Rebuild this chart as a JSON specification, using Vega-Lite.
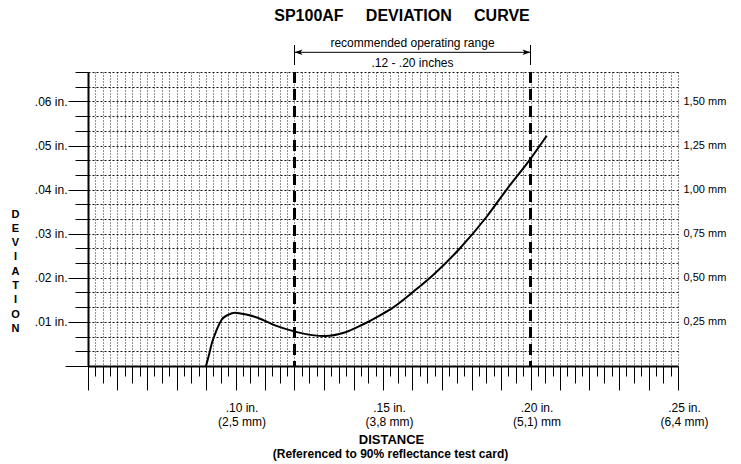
{
  "$schema": "https://vega.github.io/schema/vega-lite/v6.json",
  "width": 590,
  "height": 294,
  "autosize": {"type": "none"},
  "padding": {"left": 88, "top": 72, "right": 63, "bottom": 98},
  "background": "white",
  "config": {"view": {"stroke": null}, "font": "Liberation Sans"},
  "title": {"text": "SP100AF\u00a0\u00a0\u00a0\u00a0\u00a0DEVIATION\u00a0\u00a0\u00a0\u00a0\u00a0CURVE", "fontSize": 16, "fontWeight": "bold", "color": "black", "anchor": "middle", "dx": 19, "offset": 13},
  "datasets": {
    "curve": [
      {"distance": 0.0900, "deviation": 0.0000},
      {"distance": 0.0910, "deviation": 0.0025},
      {"distance": 0.0920, "deviation": 0.0052},
      {"distance": 0.0935, "deviation": 0.0080},
      {"distance": 0.0953, "deviation": 0.0105},
      {"distance": 0.0975, "deviation": 0.0116},
      {"distance": 0.0998, "deviation": 0.0121},
      {"distance": 0.1040, "deviation": 0.0116},
      {"distance": 0.1077, "deviation": 0.0109},
      {"distance": 0.1134, "deviation": 0.0092},
      {"distance": 0.1202, "deviation": 0.0078},
      {"distance": 0.1260, "deviation": 0.0070},
      {"distance": 0.1303, "deviation": 0.0068},
      {"distance": 0.1370, "deviation": 0.0076},
      {"distance": 0.1428, "deviation": 0.0093},
      {"distance": 0.1490, "deviation": 0.0115},
      {"distance": 0.1535, "deviation": 0.0133},
      {"distance": 0.1600, "deviation": 0.0167},
      {"distance": 0.1671, "deviation": 0.0207},
      {"distance": 0.1761, "deviation": 0.0267},
      {"distance": 0.1852, "deviation": 0.0339},
      {"distance": 0.1919, "deviation": 0.0400},
      {"distance": 0.1998, "deviation": 0.0468},
      {"distance": 0.2055, "deviation": 0.0522}
    ],
    "limits": [{"limit": 0.12}, {"limit": 0.20}]
  },
  "layer": [
    {
      "data": {"name": "curve"},
      "mark": {"type": "line", "color": "black", "strokeWidth": 2, "interpolate": "monotone"},
      "encoding": {
        "x": {
          "field": "distance", "type": "quantitative",
          "scale": {"domain": [0.05, 0.25], "nice": false, "zero": false},
          "axis": {
            "orient": "bottom",
            "values": [0.05,0.0525,0.055,0.0575,0.06,0.0625,0.065,0.0675,0.07,0.0725,0.075,0.0775,0.08,0.0825,0.085,0.0875,0.09,0.0925,0.095,0.0975,0.1,0.1025,0.105,0.1075,0.11,0.1125,0.115,0.1175,0.12,0.1225,0.125,0.1275,0.13,0.1325,0.135,0.1375,0.14,0.1425,0.145,0.1475,0.15,0.1525,0.155,0.1575,0.16,0.1625,0.165,0.1675,0.17,0.1725,0.175,0.1775,0.18,0.1825,0.185,0.1875,0.19,0.1925,0.195,0.1975,0.2,0.2025,0.205,0.2075,0.21,0.2125,0.215,0.2175,0.22,0.2225,0.225,0.2275,0.23,0.2325,0.235,0.2375,0.24,0.2425,0.245,0.2475,0.25],
            "domainColor": "black", "domainWidth": 2,
            "tickColor": "black", "tickWidth": 1,
            "tickSize": {"condition": [{"test": "abs(datum.value*100 - round(datum.value*100)) < 0.01", "value": 24}, {"test": "abs(datum.value*200 - round(datum.value*200)) < 0.01", "value": 17}], "value": 10},
            "labelExpr": "abs(datum.value-0.1)<0.0001 ? ['.10 in.','(2,5 mm)'] : abs(datum.value-0.15)<0.0001 ? ['.15 in.','(3,8 mm)'] : abs(datum.value-0.2)<0.0001 ? ['.20 in.','(5,1) mm'] : abs(datum.value-0.25)<0.0001 ? ['.25 in.','(6,4 mm)'] : ''",
            "labelBaseline": "top", "labelPadding": 12, "labelOffset": 6, "labelLineHeight": 14,
            "labelFontSize": 12, "labelColor": "black", "labelOverlap": false, "labelBound": false, "labelFlush": false,
            "grid": true, "gridColor": "#222", "gridDash": [1, 2], "gridWidth": 1,
            "title": "DISTANCE", "titleFontSize": 13, "titleFontWeight": "bold", "titleColor": "black",
            "titleX": 303, "titleY": 73, "titleBaseline": "middle", "titleAlign": "center"
          }
        },
        "y": {
          "field": "deviation", "type": "quantitative",
          "scale": {"domain": [0, 0.0666667], "nice": false, "zero": false},
          "axis": {
            "orient": "left",
            "values": [0,0.0033333,0.0066667,0.01,0.0133333,0.0166667,0.02,0.0233333,0.0266667,0.03,0.0333333,0.0366667,0.04,0.0433333,0.0466667,0.05,0.0533333,0.0566667,0.06,0.0633333,0.0666667],
            "domainColor": "black", "domainWidth": 2,
            "tickColor": "black", "tickWidth": 1,
            "tickSize": {"condition": [{"test": "datum.value == 0", "value": 23}, {"test": "abs(datum.value*100 - round(datum.value*100)) < 0.01", "value": 20}], "value": 13},
            "labelExpr": "datum.value > 0.005 && abs(datum.value*100 - round(datum.value*100)) < 0.01 ? '.0' + round(datum.value*100) + ' in.' : ''",
            "labelPadding": 1, "labelFontSize": 12, "labelColor": "black", "labelOverlap": false, "labelBound": false, "labelFlush": false,
            "grid": true, "gridColor": "#111", "gridDash": [2, 2], "gridWidth": 1,
            "title": ["D","E","V","I","A","T","I","O","N"],
            "titleAngle": 0, "titleFontSize": 11, "titleFontWeight": "bold", "titleColor": "black", "titleLineHeight": 14.3,
            "titleX": -73, "titleY": 142, "titleAlign": "center", "titleBaseline": "middle"
          }
        }
      }
    },
    {
      "data": {"name": "limits"},
      "mark": {"type": "rule", "color": "black", "strokeWidth": 3, "strokeDash": [11, 6]},
      "encoding": {
        "x": {"field": "limit", "type": "quantitative", "scale": {"domain": [0.05, 0.25], "nice": false, "zero": false}, "axis": null}
      }
    },
    {
      "data": {"name": "limits"},
      "mark": {"type": "rule", "color": "black", "strokeWidth": 1},
      "encoding": {
        "x": {
          "field": "limit", "type": "quantitative", "scale": {"domain": [0.05, 0.25], "nice": false, "zero": false},
          "axis": {
            "orient": "bottom", "domain": false, "ticks": false, "labels": false, "grid": false,
            "title": "(Referenced to 90% reflectance test card)", "titleFontSize": 12, "titleFontWeight": "bold", "titleColor": "black",
            "titleX": 302, "titleY": 87, "titleBaseline": "middle", "titleAlign": "center"
          }
        },
        "y": {
          "datum": 0.06825, "type": "quantitative", "scale": {"domain": [0, 0.0666667], "nice": false, "zero": false},
          "axis": {
            "orient": "right", "values": [0.01, 0.02, 0.03, 0.04, 0.05, 0.06],
            "domain": false, "ticks": false, "tickSize": 0, "grid": false, "title": null,
            "labelExpr": "replace(format(datum.value*25, '.2f'), '.', ',') + ' mm'",
            "labelPadding": 5, "labelFontSize": 11, "labelColor": "black", "labelBound": false, "labelFlush": false, "labelOverlap": false
          }
        },
        "y2": {"datum": 0.07279}
      }
    },
    {
      "data": {"values": [{"from": 0.12, "to": 0.20}]},
      "mark": {"type": "rule", "color": "black", "strokeWidth": 1},
      "encoding": {
        "x": {"field": "from", "type": "quantitative", "scale": {"domain": [0.05, 0.25], "nice": false, "zero": false}, "axis": null},
        "x2": {"field": "to"},
        "y": {"datum": 0.07113, "type": "quantitative", "scale": {"domain": [0, 0.0666667], "nice": false, "zero": false}, "axis": null}
      }
    },
    {
      "data": {"values": [{"end": 0.12}]},
      "mark": {"type": "point", "shape": "M -1 0 L 1 -0.7 L 0.5 0 L 1 0.7 Z", "size": 64, "filled": true, "color": "black", "opacity": 1, "xOffset": 4},
      "encoding": {
        "x": {"field": "end", "type": "quantitative", "scale": {"domain": [0.05, 0.25], "nice": false, "zero": false}, "axis": null},
        "y": {"datum": 0.07113, "type": "quantitative", "scale": {"domain": [0, 0.0666667], "nice": false, "zero": false}, "axis": null}
      }
    },
    {
      "data": {"values": [{"end": 0.20}]},
      "mark": {"type": "point", "shape": "M 1 0 L -1 -0.7 L -0.5 0 L -1 0.7 Z", "size": 64, "filled": true, "color": "black", "opacity": 1, "xOffset": -4},
      "encoding": {
        "x": {"field": "end", "type": "quantitative", "scale": {"domain": [0.05, 0.25], "nice": false, "zero": false}, "axis": null},
        "y": {"datum": 0.07113, "type": "quantitative", "scale": {"domain": [0, 0.0666667], "nice": false, "zero": false}, "axis": null}
      }
    },
    {
      "data": {"values": [{"label": "recommended operating range", "center": 0.16}]},
      "mark": {"type": "text", "fontSize": 12, "color": "black", "align": "center", "baseline": "middle"},
      "encoding": {
        "x": {"field": "center", "type": "quantitative", "scale": {"domain": [0.05, 0.25], "nice": false, "zero": false}, "axis": null},
        "y": {"datum": 0.07317, "type": "quantitative", "scale": {"domain": [0, 0.0666667], "nice": false, "zero": false}, "axis": null},
        "text": {"field": "label"}
      }
    },
    {
      "data": {"values": [{"label": ".12 - .20 inches", "center": 0.16}]},
      "mark": {"type": "text", "fontSize": 12, "color": "black", "align": "center", "baseline": "middle"},
      "encoding": {
        "x": {"field": "center", "type": "quantitative", "scale": {"domain": [0.05, 0.25], "nice": false, "zero": false}, "axis": null},
        "y": {"datum": 0.06864, "type": "quantitative", "scale": {"domain": [0, 0.0666667], "nice": false, "zero": false}, "axis": null},
        "text": {"field": "label"}
      }
    }
  ],
  "resolve": {"axis": {"x": "independent", "y": "independent"}}
}
